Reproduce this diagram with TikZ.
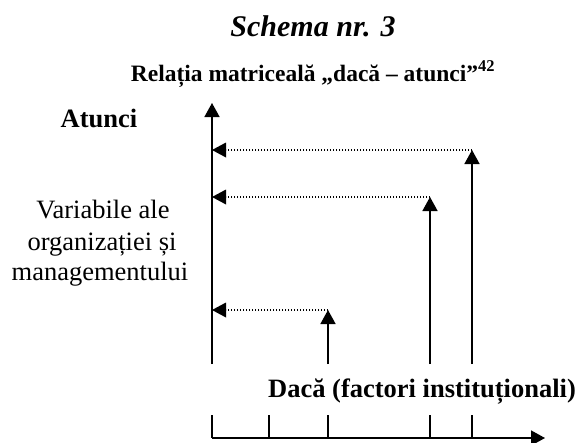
\documentclass[tikz,border=0pt]{standalone}
\usepackage{fontspec}
\setmainfont{Liberation Serif}
\usetikzlibrary{arrows.meta}
\begin{document}
\begin{tikzpicture}[x=1pt,y=-1pt,
  axisline/.style={line width=1.6pt},
  solidarrow/.style={line width=1.6pt,-{Triangle[length=14pt,width=15pt]}},
  dotarrow/.style={line width=1.3pt,dash pattern=on 1.3pt off 1.7pt,-{Triangle[length=14pt,width=15pt,line width=0pt]}},
  txt/.style={inner sep=0pt,anchor=base},
  body/.style={font=\fontsize{26.5}{31}\selectfont}]
\useasboundingbox (0,0) rectangle (578,442);
% texts
\node[txt,font=\fontsize{30}{34}\selectfont\bfseries\itshape] (title) at (313,36) {Schema nr. 3};
\node[txt,font=\fontsize{23.5}{28}\selectfont\bfseries] (sub) at (313,81) {Relația matriceală „dacă – atunci”\textsuperscript{42}};
\node[txt,font=\fontsize{26.5}{31}\selectfont\bfseries] (atunci) at (99,127) {Atunci};
\node[txt,body] (v1) at (103,218) {Variabile ale};
\node[txt,body] (v2) at (102,250) {organizației și};
\node[txt,body] (v3) at (100,280) {managementului};
\node[txt,anchor=base west,font=\fontsize{26.5}{31}\selectfont\bfseries] (daca) at (268,397) {Dacă (factori instituționali)};
% coordinates
\coordinate (ya0) at (212,364);
\coordinate (ya1) at (212,103);
\coordinate (h1) at (212,150);
\coordinate (h2) at (212,197);
\coordinate (h3) at (212,310);
\coordinate (a1b) at (472,364);
\coordinate (a1t) at (472,150);
\coordinate (a2b) at (430,364);
\coordinate (a2t) at (430,197);
\coordinate (a3b) at (328,364);
\coordinate (a3t) at (328,310);
\coordinate (xo) at (212,438);
\coordinate (xe) at (545,438);
\foreach \n/\x in {t1/212,t2/269,t3/328,t4/430,t5/472}{
  \coordinate (\n top) at (\x,415);
  \coordinate (\n bot) at (\x,438);
}
% axes
\draw[solidarrow] (ya0) -- (ya1);
\draw[solidarrow] (a1b) -- (a1t);
\draw[solidarrow] (a2b) -- (a2t);
\draw[solidarrow] (a3b) -- (a3t);
\draw[dotarrow] (a1t) -- (h1);
\draw[dotarrow] (a2t) -- (h2);
\draw[dotarrow] (a3t) -- (h3);
\draw[solidarrow] (xo) -- (xe);
\foreach \n in {t1,t2,t3,t4,t5}{
  \draw[axisline] (\n top) -- (\n bot);
}
\end{tikzpicture}
\end{document}
